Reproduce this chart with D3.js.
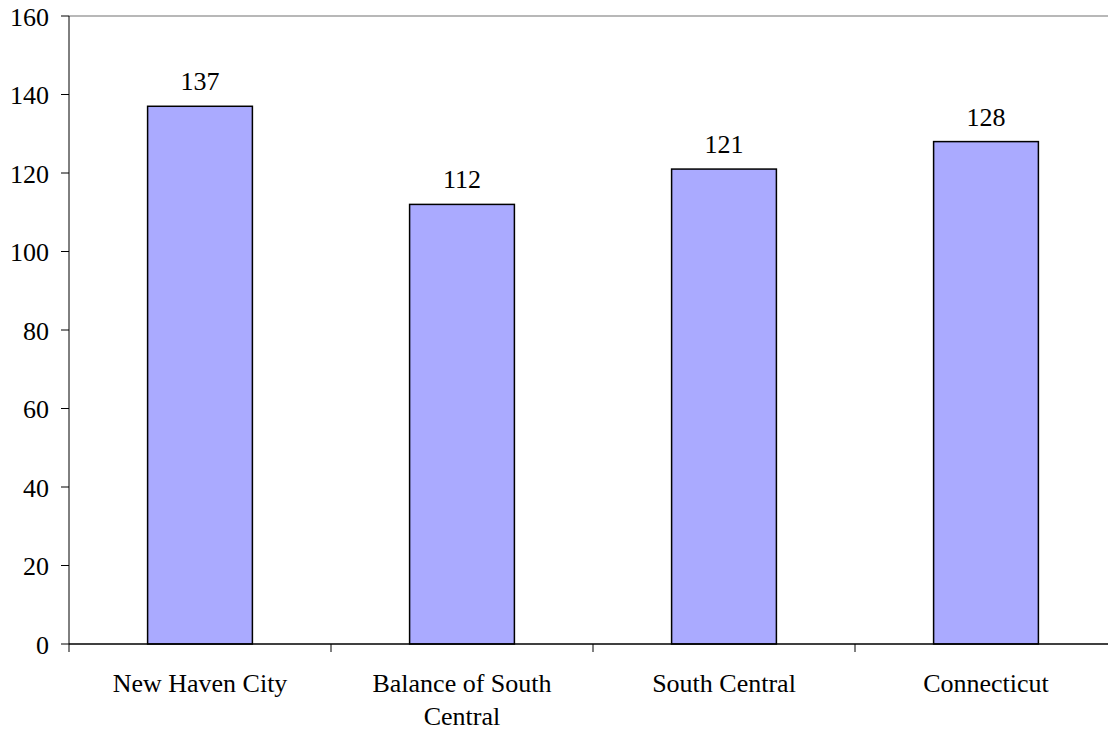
<!DOCTYPE html>
<html>
<head>
<meta charset="utf-8">
<script src="https://cdn.jsdelivr.net/npm/d3@7"></script>
<style>
  html, body { margin: 0; padding: 0; background: #fff; }
  svg { display: block; }
</style>
</head>
<body>
<svg id="chart" width="1108" height="731"></svg>
<script>
const categories = ["New Haven City", "Balance of South Central", "South Central", "Connecticut"];
const values = [137, 112, 121, 128];
const yTicks = [0, 20, 40, 60, 80, 100, 120, 140, 160];

(function () {
const FONT = "'Liberation Serif'";
const svg = d3.select("#chart");
const plotLeft = 69, plotTop = 16, plotBottom = 644, step = 262;
const plotRight = plotLeft + step * categories.length;
const fontSize = 26;

const x = d3.scaleBand().domain(categories).range([plotLeft, plotRight]).paddingInner(0.6).paddingOuter(0.3);
const y = d3.scaleLinear().domain([0, 160]).range([plotBottom, plotTop]);

// top border line (gray)
svg.append("line")
  .attr("x1", plotLeft).attr("x2", 1108)
  .attr("y1", y(160)).attr("y2", y(160))
  .attr("stroke", "#a0a0a0").attr("stroke-width", 1.5);

// bars
svg.selectAll("rect.bar").data(values).enter().append("rect")
  .attr("class", "bar")
  .attr("x", (d, i) => x(categories[i]))
  .attr("width", x.bandwidth())
  .attr("y", d => y(d))
  .attr("height", d => plotBottom - y(d))
  .attr("fill", "#aaaaff")
  .attr("stroke", "#000").attr("stroke-width", 1.5);

// value labels
svg.selectAll("text.val").data(values).enter().append("text")
  .attr("class", "val")
  .attr("x", (d, i) => x(categories[i]) + x.bandwidth() / 2)
  .attr("y", d => y(d) - 16)
  .attr("text-anchor", "middle")
  .attr("font-family", FONT)
  .attr("font-size", fontSize)
  .text(d => d);

// y axis
const yAxis = svg.append("g");
yAxis.append("line")
  .attr("x1", plotLeft).attr("x2", plotLeft).attr("y1", plotTop).attr("y2", plotBottom + 8)
  .attr("stroke", "#000").attr("stroke-width", 1);
yAxis.selectAll("line.tick").data(yTicks).enter().append("line")
  .attr("x1", plotLeft - 8).attr("x2", plotLeft)
  .attr("y1", d => y(d)).attr("y2", d => y(d))
  .attr("stroke", "#000");
yAxis.selectAll("text").data(yTicks).enter().append("text")
  .attr("x", 49)
  .attr("y", d => y(d) + 9.5)
  .attr("text-anchor", "end")
  .attr("font-family", FONT)
  .attr("font-size", fontSize)
  .text(d => d);

// x axis
svg.append("line")
  .attr("x1", plotLeft).attr("x2", 1108).attr("y1", plotBottom).attr("y2", plotBottom)
  .attr("stroke", "#000").attr("stroke-width", 1.5);
const bounds = d3.range(1, categories.length).map(i => plotLeft + i * x.step());
svg.selectAll("line.xt").data(bounds).enter().append("line")
  .attr("x1", d => d).attr("x2", d => d)
  .attr("y1", plotBottom).attr("y2", plotBottom + 8)
  .attr("stroke", "#000");

// category labels with wrapping
const maxW = 230;
categories.forEach((c, i) => {
  const cx = x(c) + x.bandwidth() / 2;
  const t = svg.append("text")
    .attr("x", cx).attr("y", 692)
    .attr("text-anchor", "middle")
    .attr("font-family", FONT)
    .attr("font-size", fontSize);
  const words = c.split(" ");
  let line = [];
  let tspan = t.append("tspan").attr("x", cx).attr("dy", 0);
  words.forEach(w => {
    line.push(w);
    tspan.text(line.join(" "));
    if (tspan.node().getComputedTextLength() > maxW && line.length > 1) {
      line.pop();
      tspan.text(line.join(" "));
      line = [w];
      tspan = t.append("tspan").attr("x", cx).attr("dy", 33).text(w);
    }
  });
});
})();
</script>
</body>
</html>
